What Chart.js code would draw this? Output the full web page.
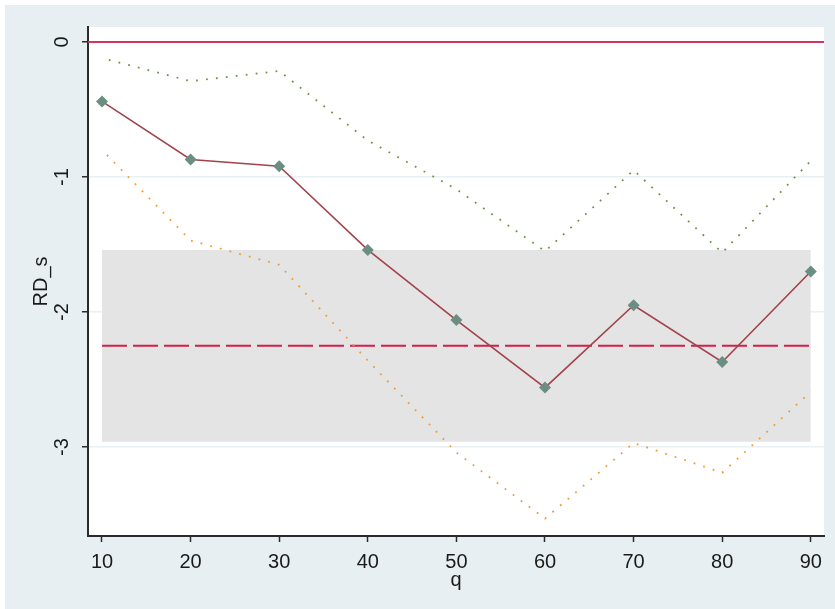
<!DOCTYPE html>
<html>
<head>
<meta charset="utf-8">
<script src="https://cdn.jsdelivr.net/npm/chart.js@4/dist/chart.umd.min.js"></script>
<style>
  html, body { margin: 0; padding: 0; background: #ffffff; }
  #wrap { position: relative; width: 835px; height: 609px; }
</style>
</head>
<body>
<div id="wrap"><canvas id="c" width="835" height="609"></canvas></div>
<script>
// Quantile grid and estimates
const quantiles = [10, 20, 30, 40, 50, 60, 70, 80, 90];
const coef      = [-0.44, -0.87, -0.92, -1.54, -2.06, -2.56, -1.95, -2.37, -1.70];
const ciUpper   = [-0.12, -0.29, -0.215, -0.73, -1.09, -1.55, -0.95, -1.56, -0.88];
const ciLower   = [-0.80, -1.47, -1.65, -2.36, -3.04, -3.53, -2.97, -3.19, -2.59];

// OLS benchmark: point estimate and its confidence band
const olsCoef  = -2.25;
const olsUpper = -1.54;
const olsLower = -2.96;

const xTicks = [10, 20, 30, 40, 50, 60, 70, 80, 90];
const yTicks = [0, -1, -2, -3];

const pts = (xs, ys) => xs.map((x, i) => ({ x: x, y: ys[i] }));
const flat = (v) => [{ x: quantiles[0], y: v }, { x: quantiles[quantiles.length - 1], y: v }];

const FONT = '"Liberation Sans", Arial, sans-serif';
const TEXT = '#1a1a1a';
const FSIZE = 20;

const background = {
  id: 'background',
  beforeDraw(chart) {
    const { ctx, chartArea: a } = chart;
    ctx.save();
    ctx.fillStyle = '#ffffff';
    ctx.fillRect(0, 0, chart.width, chart.height);
    ctx.fillStyle = '#e8eff2';
    ctx.fillRect(5, 5, chart.width - 5, chart.height - 5);
    ctx.fillStyle = '#ffffff';
    ctx.fillRect(a.left, a.top, a.right - a.left, a.bottom - a.top);
    ctx.restore();
  }
};

// Vertical-axis tick labels, rotated to read bottom-to-top
const yLabels = {
  id: 'yLabels',
  afterDraw(chart) {
    const s = chart.scales.y;
    const ctx = chart.ctx;
    ctx.save();
    ctx.fillStyle = TEXT;
    ctx.font = FSIZE + 'px ' + FONT;
    ctx.textAlign = 'center';
    ctx.textBaseline = 'middle';
    s.ticks.forEach(t => {
      const py = s.getPixelForValue(t.value);
      ctx.save();
      ctx.translate(s.right - 26, py);
      ctx.rotate(-Math.PI / 2);
      ctx.fillText(String(t.value), 0, 0);
      ctx.restore();
    });
    ctx.restore();
  }
};

new Chart(document.getElementById('c'), {
  type: 'scatter',
  data: {
    datasets: [
      {
        label: 'coef',
        data: pts(quantiles, coef),
        showLine: true,
        borderColor: '#a2434d',
        borderWidth: 1.6,
        pointStyle: 'rectRot',
        pointRadius: 6,
        pointBackgroundColor: '#6a8f82',
        pointBorderColor: '#6a8f82',
        pointBorderWidth: 0,
        order: 1
      },
      {
        label: 'upper',
        data: pts(quantiles, ciUpper),
        showLine: true,
        borderColor: '#6f9446',
        borderWidth: 1.8,
        borderDash: [1.8, 8.2],
        borderDashOffset: -7,
        pointRadius: 0,
        order: 2
      },
      {
        label: 'lower',
        data: pts(quantiles, ciLower),
        showLine: true,
        borderColor: '#f39c32',
        borderWidth: 1.8,
        borderDash: [1.8, 8.2],
        borderDashOffset: -7,
        pointRadius: 0,
        order: 3
      },
      {
        label: 'zero',
        data: [{ x: 8.42, y: 0 }, { x: 91.49, y: 0 }],
        showLine: true,
        borderColor: '#d6345e',
        borderWidth: 2,
        pointRadius: 0,
        order: 4
      },
      {
        label: 'ols',
        data: flat(olsCoef),
        showLine: true,
        borderColor: '#d41f4b',
        borderWidth: 2,
        borderDash: [25, 6],
        pointRadius: 0,
        order: 5
      },
      {
        label: 'olsUpper',
        data: flat(olsUpper),
        showLine: true,
        borderColor: 'rgba(0,0,0,0)',
        borderWidth: 0,
        pointRadius: 0,
        backgroundColor: '#e4e4e4',
        fill: '+1',
        order: 6
      },
      {
        label: 'olsLower',
        data: flat(olsLower),
        showLine: true,
        borderColor: 'rgba(0,0,0,0)',
        borderWidth: 0,
        pointRadius: 0,
        order: 7
      }
    ]
  },
  options: {
    responsive: false,
    animation: false,
    devicePixelRatio: 1,
    layout: { padding: { top: 27, right: 11, left: 0, bottom: 0 } },
    plugins: {
      legend: { display: false },
      tooltip: { enabled: false },
      filler: { propagate: false }
    },
    scales: {
      x: {
        type: 'linear',
        min: 8.42,
        max: 91.49,
        afterBuildTicks: s => { s.ticks = xTicks.map(v => ({ value: v })); },
        afterFit: s => { s.height = 73; },
        border: { display: true, color: '#2a2a2a', width: 2 },
        grid: { drawOnChartArea: false, drawTicks: true, tickLength: 6, tickColor: '#2a2a2a', tickWidth: 1.5 },
        ticks: {
          color: TEXT,
          font: { family: FONT, size: FSIZE },
          padding: 8,
          maxRotation: 0,
          callback: v => String(v)
        },
        title: {
          display: true,
          text: 'q',
          color: TEXT,
          font: { family: FONT, size: FSIZE },
          padding: { top: 0, bottom: 17 }
        }
      },
      y: {
        type: 'linear',
        min: -3.659,
        max: 0.111,
        afterBuildTicks: s => { s.ticks = yTicks.map(v => ({ value: v })); },
        afterFit: s => { s.width = 88; },
        border: { display: true, color: '#2a2a2a', width: 2 },
        grid: { color: '#e9f0f3', lineWidth: 1.5, drawTicks: true, tickLength: 6, tickColor: '#2a2a2a', tickWidth: 1.5 },
        ticks: { display: false },
        title: {
          display: true,
          text: 'RD_s',
          color: TEXT,
          font: { family: FONT, size: FSIZE },
          padding: { top: 29, bottom: 0 }
        }
      }
    }
  },
  plugins: [background, yLabels]
});
</script>
</body>
</html>
